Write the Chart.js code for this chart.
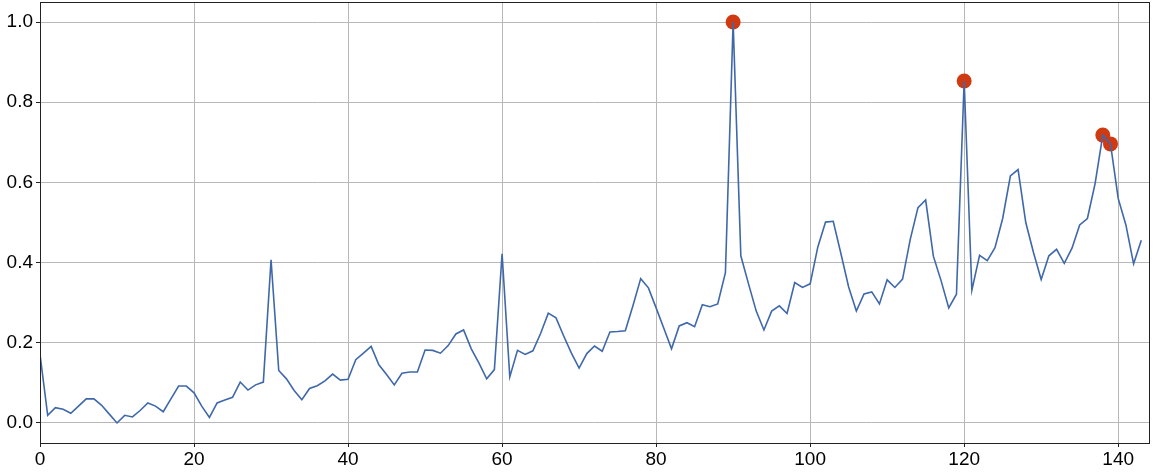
<!DOCTYPE html>
<html>
<head>
<meta charset="utf-8">
<script src="https://cdn.jsdelivr.net/npm/chart.js@4/dist/chart.umd.min.js"></script>
<style>
  html, body { margin: 0; padding: 0; background: #fff; }
</style>
</head>
<body>
<canvas id="chart" width="1153" height="476"></canvas>
<script>
// values, index 0..143
const values = [
  0.171, 0.019, 0.038, 0.034, 0.024, 0.042, 0.060, 0.060, 0.044, 0.022,
  0.000, 0.019, 0.015, 0.031, 0.050, 0.042, 0.028, 0.060, 0.092, 0.092,
  0.075, 0.042, 0.014, 0.050, 0.057, 0.064, 0.102, 0.082, 0.095, 0.102,
  0.407, 0.131, 0.110, 0.081, 0.058, 0.086, 0.093, 0.105, 0.122, 0.107,
  0.109, 0.158, 0.174, 0.191, 0.145, 0.121, 0.095, 0.124, 0.127, 0.127,
  0.182, 0.181, 0.174, 0.193, 0.222, 0.232, 0.185, 0.149, 0.110, 0.133,
  0.422, 0.115, 0.181, 0.171, 0.180, 0.223, 0.274, 0.262, 0.217, 0.174,
  0.137, 0.173, 0.192, 0.179, 0.227, 0.228, 0.230, 0.293, 0.360, 0.337,
  0.287, 0.236, 0.185, 0.242, 0.250, 0.240, 0.295, 0.290, 0.297, 0.375,
  1.000, 0.417, 0.347, 0.279, 0.232, 0.279, 0.292, 0.273, 0.350, 0.338,
  0.347, 0.439, 0.501, 0.503, 0.422, 0.339, 0.279, 0.322, 0.327, 0.297,
  0.357, 0.338, 0.359, 0.458, 0.537, 0.556, 0.416, 0.355, 0.287, 0.321,
  0.853, 0.331, 0.418, 0.405, 0.437, 0.510, 0.616, 0.632, 0.500, 0.425,
  0.358, 0.417, 0.433, 0.398, 0.436, 0.494, 0.510, 0.597, 0.718, 0.696,
  0.560, 0.494, 0.397, 0.456
];

// highlighted peaks
const peakIdx = [90, 120, 138, 139];

const xTicks = [0, 20, 40, 60, 80, 100, 120, 140];
const yTicks = [0.0, 0.2, 0.4, 0.6, 0.8, 1.0];

const linePoints = values.map((v, i) => ({ x: i, y: v }));
const peakPoints = peakIdx.map(i => ({ x: i, y: values[i] }));

// box round the plot, like matplotlib spines
const frame = {
  id: 'frame',
  afterDraw(chart) {
    const { ctx, chartArea: a } = chart;
    ctx.save();
    ctx.strokeStyle = '#222';
    ctx.lineWidth = 1;
    ctx.strokeRect(Math.round(a.left) + 0.5, Math.round(a.top) + 0.5,
      Math.round(a.right - a.left), Math.round(a.bottom - a.top));
    ctx.restore();
  }
};

const font = { family: "'Liberation Sans', Arial, sans-serif", size: 19 };

new Chart(document.getElementById('chart'), {
  type: 'line',
  data: {
    datasets: [
      {
        data: linePoints,
        borderColor: '#3f68aa',
        borderWidth: 1.6,
        pointRadius: 0,
        tension: 0,
        fill: false,
        order: 1
      },
      {
        type: 'scatter',
        data: peakPoints,
        backgroundColor: '#cf3a13',
        borderColor: '#cf3a13',
        pointRadius: 7.5,
        borderWidth: 0,
        order: 2
      }
    ]
  },
  options: {
    responsive: false,
    animation: false,
    layout: { autoPadding: false, padding: { top: 2, right: 4, left: 0, bottom: 0 } },
    plugins: {
      legend: { display: false },
      tooltip: { enabled: false }
    },
    scales: {
      x: {
        type: 'linear',
        min: 0,
        max: 144,
        afterBuildTicks: s => { s.ticks = xTicks.map(v => ({ value: v })); },
        afterFit: s => { s.height = 33; s.paddingLeft = 0; s.paddingRight = 0; },
        ticks: { font, color: '#000', padding: 1, maxRotation: 0,
          callback: v => String(v) },
        grid: { color: '#b8b8b8', lineWidth: 1, tickLength: 4, tickColor: '#222' },
        border: { display: false }
      },
      y: {
        type: 'linear',
        min: -0.05,
        max: 1.05,
        afterBuildTicks: s => { s.ticks = yTicks.map(v => ({ value: v })); },
        afterFit: s => { s.width = 40; s.paddingTop = 0; s.paddingBottom = 0; },
        ticks: { font, color: '#000', padding: 3,
          callback: v => Number(v).toFixed(1) },
        grid: { color: '#b8b8b8', lineWidth: 1, tickLength: 4, tickColor: '#222' },
        border: { display: false }
      }
    }
  },
  plugins: [frame]
});
</script>
</body>
</html>
